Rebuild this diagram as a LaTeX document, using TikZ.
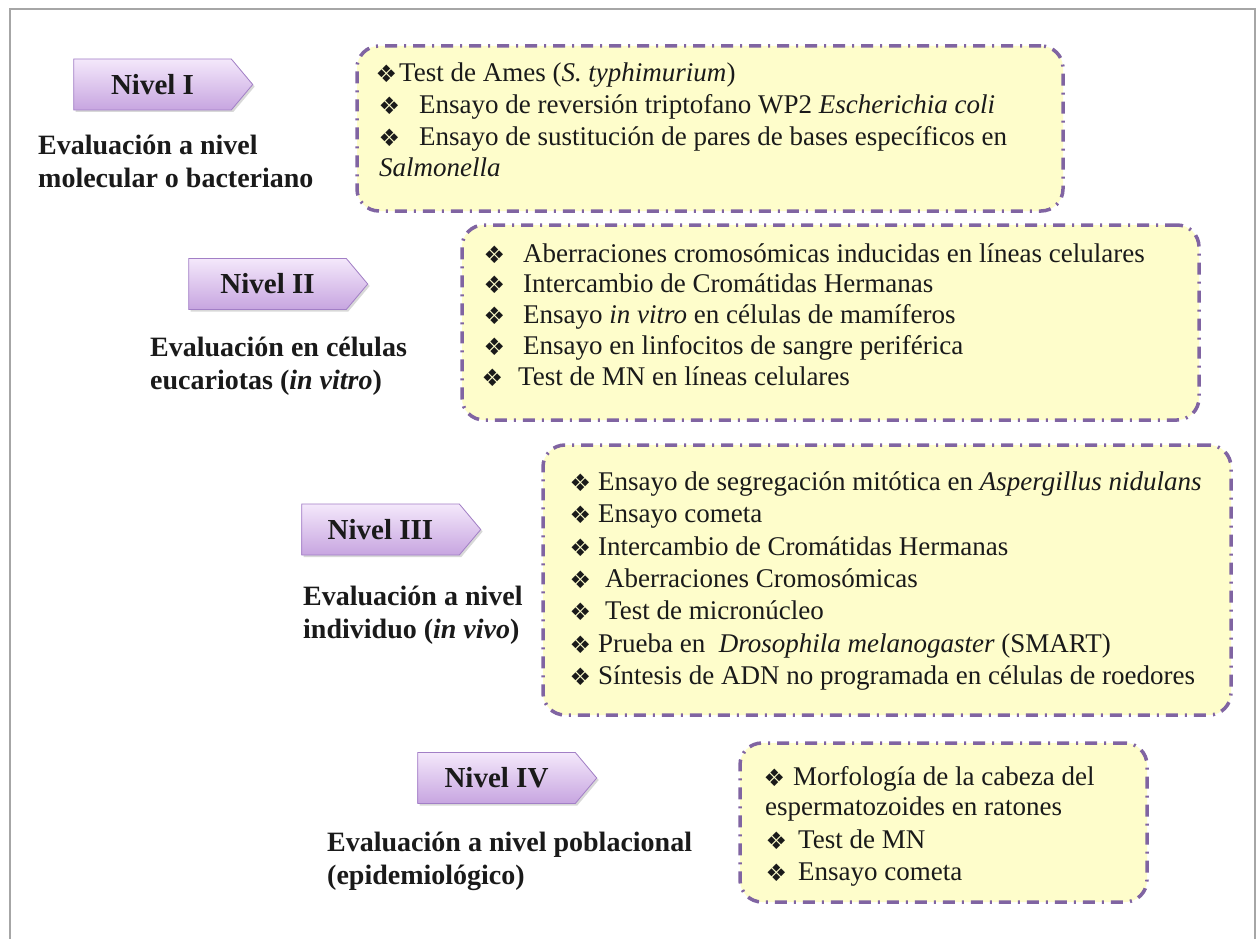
\documentclass[tikz,border=0pt]{standalone}
\usepackage{fontspec}
\setmainfont{Liberation Serif}
\newfontfamily\symfont{DejaVu Sans}
\usetikzlibrary{shapes.symbols,shadows}
\definecolor{boxfill}{HTML}{FEFDCB}
\definecolor{boxline}{HTML}{8064A2}
\definecolor{arrtop}{HTML}{F4E8FB}
\definecolor{arrbot}{HTML}{C7A5E0}
\definecolor{arrline}{HTML}{A27FC6}
\definecolor{framegray}{HTML}{A6A6A6}
\definecolor{ink}{HTML}{1A1A1A}
\newcommand{\bul}{{\symfont\fontsize{24}{24}\selectfont\raisebox{-1pt}{❖}}}
\newcommand{\bl}[1]{\makebox[#1pt][l]{\hspace{-1.5pt}\rlap{\bul}}}
\tikzset{
  bx/.style={draw=boxline, fill=boxfill, line width=3.5pt, rounded corners=22pt,
    dash pattern=on 12pt off 7pt on 2pt off 7pt, inner sep=0pt},
  lvl/.style={shape=signal, signal to=east, signal pointer angle=100, draw=arrline,
    line width=0.8pt, top color=arrtop, bottom color=arrbot, minimum height=51pt,
    minimum width=179pt, inner sep=0pt, text=ink,
    font=\bfseries\fontsize{29}{29}\selectfont,
    drop shadow={opacity=0.3, shadow xshift=2pt, shadow yshift=-2pt}},
  tx/.style={anchor=base west, inner sep=0pt, text=ink, font=\fontsize{27}{27}\selectfont},
  lb/.style={anchor=base west, inner sep=0pt, text=ink, font=\bfseries\fontsize{28}{28}\selectfont}
}
\begin{document}
\begin{tikzpicture}[x=1pt, y=-1pt]
\useasboundingbox (0,0) rectangle (1259,939);
\fill[white] (0,0) rectangle (1259,939);
\draw[framegray, line width=1.5pt] (10,939) -- (10,9) -- (1255,9) -- (1255,939);

% boxes
\node[bx, minimum width=706pt, minimum height=165pt] (box1) at (710,128.5) {};
\node[bx, minimum width=737pt, minimum height=195pt] (box2) at (830.5,322.5) {};
\node[bx, minimum width=688pt, minimum height=270pt] (box3) at (887,580) {};
\node[bx, minimum width=407pt, minimum height=159pt] (box4) at (943.5,822.5) {};

% level arrows
\node[lvl] (n1) at (152.5,84.5) {Nivel I};
\node[lvl] (n2) at (267.5,284) {Nivel II};
\node[lvl] (n3) at (380.5,529.5) {Nivel III};
\node[lvl] (n4) at (496.5,778) {Nivel IV};

% left labels
\node[lb] (l1a) at (38,155) {Evaluación a nivel};
\node[lb] (l1b) at (38,188) {molecular o bacteriano};
\node[lb] (l2a) at (150,356) {Evaluación en células};
\node[lb] (l2b) at (150,389) {eucariotas (\textit{in vitro})};
\node[lb] (l3a) at (303,605) {Evaluación a nivel};
\node[lb] (l3b) at (303,638) {individuo (\textit{in vivo})};
\node[lb] (l4a) at (327,851) {Evaluación a nivel poblacional};
\node[lb] (l4b) at (327,884) {(epidemiológico)};

% box 1
\node[tx] (t11) at (377,82) {\bl{22}Test de Ames (\textit{S. typhimurium})};
\node[tx] (t12) at (380,114) {\bl{39}Ensayo de reversión triptofano WP2 \textit{Escherichia coli}};
\node[tx] (t13) at (380,146) {\bl{39}Ensayo de sustitución de pares de bases específicos en};
\node[tx] (t14) at (379,177) {\textit{Salmonella}};

% box 2
\node[tx] (t21) at (485,262) {\bl{38}Aberraciones cromosómicas inducidas en líneas celulares};
\node[tx] (t22) at (485,292) {\bl{38}Intercambio de Cromátidas Hermanas};
\node[tx] (t23) at (485,323) {\bl{38}Ensayo \textit{in vitro} en células de mamíferos};
\node[tx] (t24) at (485,354) {\bl{38}Ensayo en linfocitos de sangre periférica};
\node[tx] (t25) at (483,385) {\bl{35}Test de MN en líneas celulares};

% box 3
\node[tx] (t31) at (571,490) {\bl{27}Ensayo de segregación mitótica en \textit{Aspergillus nidulans}};
\node[tx] (t32) at (571,522) {\bl{27}Ensayo cometa};
\node[tx] (t33) at (571,555) {\bl{27}Intercambio de Cromátidas Hermanas};
\node[tx] (t34) at (571,587) {\bl{34}Aberraciones Cromosómicas};
\node[tx] (t35) at (571,619) {\bl{34}Test de micronúcleo};
\node[tx] (t36) at (571,652) {\bl{27}Prueba en \ \textit{Drosophila melanogaster} (SMART)};
\node[tx] (t37) at (571,684) {\bl{27}Síntesis de ADN no programada en células de roedores};

% box 4
\node[tx] (t41) at (765,785) {\bl{28}Morfología de la cabeza del};
\node[tx] (t42) at (765,815) {espermatozoides en ratones};
\node[tx] (t43) at (767,848) {\bl{31}Test de MN};
\node[tx] (t44) at (767,880) {\bl{31}Ensayo cometa};
\end{tikzpicture}
\end{document}
